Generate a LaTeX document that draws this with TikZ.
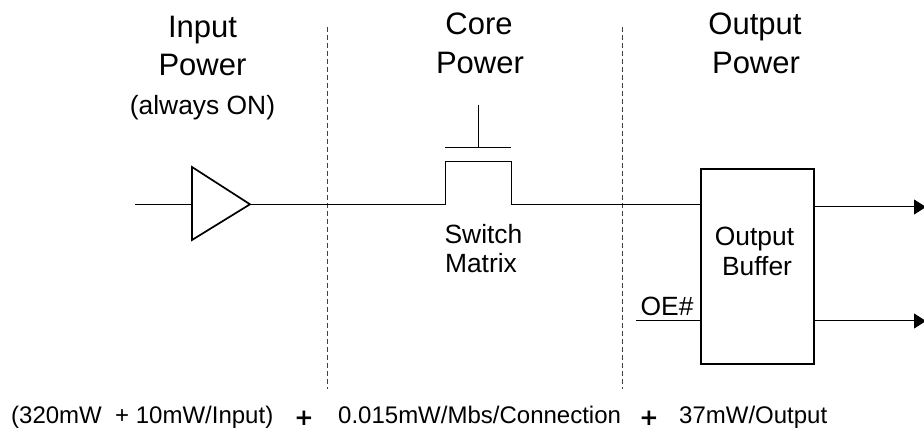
\documentclass[tikz,border=0pt]{standalone}
\usepackage{fontspec}
\setmainfont{Liberation Sans}
\newfontfamily\plusfont{DejaVu Sans}
\usetikzlibrary{arrows.meta}
\newcommand{\fs}[1]{\fontsize{#1}{#1}\selectfont}
\tikzset{
  wire/.style={line width=1pt,draw=black},
  thick box/.style={line width=1.7pt,draw=black},
  divider/.style={line width=0.8pt,draw=black!75,dash pattern=on 5pt off 3pt},
  head/.style={anchor=base,inner sep=0pt,font=\fs{31}},
  mid/.style={anchor=base,inner sep=0pt,font=\fs{26.4}},
  sum/.style={anchor=base west,inner sep=0pt,font=\fs{24}},
  plus/.style={anchor=base,inner sep=0pt,font=\plusfont\fs{23}\bfseries},
  outarrow/.style={wire,-{Triangle[length=12pt,width=15pt]}}
}
\begin{document}
\begin{tikzpicture}[x=1pt,y=-1pt]
\useasboundingbox (0,0) rectangle (924,430);
% dividers
\coordinate (d1t) at (327.5,27); \coordinate (d1b) at (327.5,389);
\coordinate (d2t) at (622,27); \coordinate (d2b) at (622,389);
\draw[divider] (d1t) -- (d1b);
\draw[divider] (d2t) -- (d2b);
% headings
\node[head] (h1a) at (202.5,37.5) {Input};
\node[head] (h1b) at (202.5,75.5) {Power};
\node[mid] (h1c) at (202.5,114.5) {(always ON)};
\node[head] (h2a) at (479,34.5) {Core};
\node[head] (h2b) at (480,73.5) {Power};
\node[head] (h3a) at (755,35) {Output};
\node[head] (h3b) at (756,73.5) {Power};
% buffer triangle
\coordinate (t1) at (192,167); \coordinate (t2) at (192,240); \coordinate (tip) at (250,204.3);
\draw[thick box,line join=miter] (t1) -- (tip) -- (t2) -- cycle;
\coordinate (in) at (135,204.3); \coordinate (tin) at (192,204.3);
\draw[wire] (in) -- (tin);
% switch
\coordinate (sl) at (445,204.3); \coordinate (slt) at (445,162);
\coordinate (srt) at (511,162); \coordinate (sr) at (511,204.3);
\draw[wire] (tip) -- (sl) -- (slt) -- (srt) -- (sr);
\coordinate (gl) at (445,148); \coordinate (gr) at (511,148);
\draw[wire] (gl) -- (gr);
\coordinate (gs) at (478,105); \coordinate (gb) at (478,148);
\draw[wire] (gs) -- (gb);
\node[mid] (sw1) at (483.5,243.5) {Switch};
\node[mid] (sw2) at (481,272.5) {Matrix};
% output buffer
\node[thick box,minimum width=113pt,minimum height=195pt,inner sep=0pt,anchor=north west] (ob) at (700,168) {};
\node[mid] (ob1) at (754.5,245.5) {Output};
\node[mid] (ob2) at (757,275.5) {Buffer};
\coordinate (obin) at (700,204.3);
\draw[wire] (sr) -- (obin);
\coordinate (oe) at (636,321); \coordinate (oein) at (700,321);
\draw[wire] (oe) -- (oein);
\node[mid,anchor=base west] (oel) at (640.5,316) {OE\#};
\coordinate (o1a) at (813,207); \coordinate (o1b) at (926,207);
\coordinate (o2a) at (813,321); \coordinate (o2b) at (926,321);
\draw[outarrow] (o1a) -- (o1b);
\draw[outarrow] (o2a) -- (o2b);
% bottom formula
\node[sum] (f1) at (11,423) {(320mW\ \ + 10mW/Input)};
\node[plus] (p1) at (304,425) {+};
\node[sum] (f2) at (338,423) {0.015mW/Mbs/Connection};
\node[plus] (p2) at (649,425) {+};
\node[sum] (f3) at (679,423) {37mW/Output};
\end{tikzpicture}
\end{document}
